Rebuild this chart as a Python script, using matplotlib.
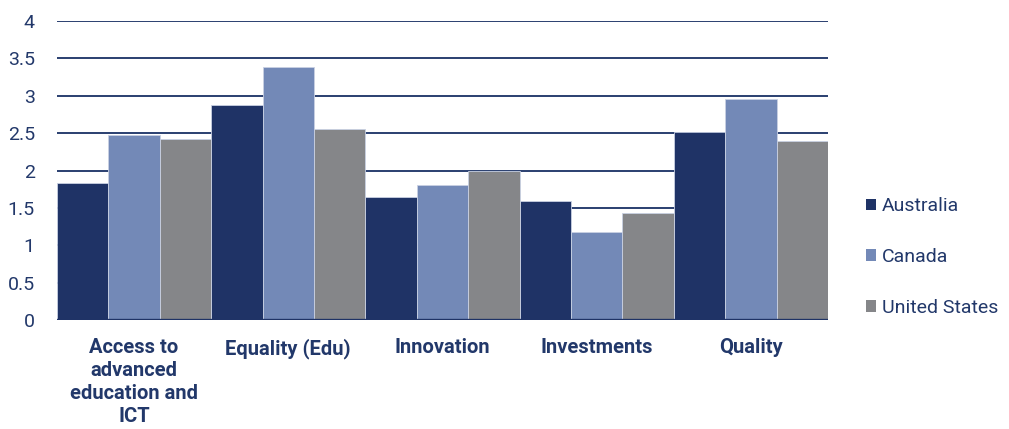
import matplotlib
matplotlib.use("Agg")
import matplotlib.pyplot as plt
import numpy as np
from matplotlib.patches import Patch

categories = ["Access to\nadvanced\neducation and\nICT", "Equality (Edu)", "Innovation",
              "Investments", "Quality"]
series_names = ["Australia", "Canada", "United States"]
australia = [1.83, 2.88, 1.64, 1.59, 2.51]
canada = [2.48, 3.38, 1.81, 1.18, 2.96]
united_states = [2.42, 2.56, 1.99, 1.43, 2.40]
yticks = [0, 0.5, 1, 1.5, 2, 2.5, 3, 3.5, 4]
ytick_labels = ["0", "0.5", "1", "1.5", "2", "2.5", "3", "3.5", "4"]

colors = ["#1f3366", "#7389b7", "#858689"]
navy = "#1f3366"
text_color = "#22386a"

plt.rcParams["font.family"] = ["Roboto", "DejaVu Sans"]

fig = plt.figure(figsize=(10.09, 4.29), dpi=100)
ax = fig.add_axes([57 / 1009, 109 / 429, 771 / 1009, 299 / 429])

x = np.arange(len(categories))
w = 1 / 3
for j, (vals, name) in enumerate(zip([australia, canada, united_states], series_names)):
    ax.bar(x + (j - 1) * w, vals, width=w, color=colors[j], edgecolor="#c9d1e3",
           linewidth=0.6, zorder=2, label=name)

ax.set_xlim(-0.5, len(categories) - 0.5)
ax.set_ylim(0, 4)
ax.set_yticks(yticks)
ax.set_yticklabels(ytick_labels)
ax.yaxis.grid(True, color="#2a3f70", linewidth=1.4, zorder=1)
ax.set_axisbelow(True)
ax.axhline(0, color=navy, linewidth=2.4, zorder=3)

for s in ax.spines.values():
    s.set_visible(False)
ax.tick_params(axis="y", length=0, pad=16, labelsize=14, labelcolor=text_color)
ax.tick_params(axis="x", length=0, pad=13)
ax.set_xticks(x)
ax.set_xticklabels(categories, fontsize=14.5, fontweight="bold", color=text_color,
                   linespacing=1.26, va="top")

handles = [Patch(facecolor=c, edgecolor="none") for c in colors]
leg = fig.legend(handles, series_names, loc="center left",
                 bbox_to_anchor=(848 / 1009, (429 - 257) / 429),
                 frameon=False, fontsize=14, handlelength=0.55, handleheight=0.55,
                 handletextpad=0.3, labelspacing=1.68)
for t in leg.get_texts():
    t.set_color(text_color)

fig.savefig("out.png", dpi=100)
